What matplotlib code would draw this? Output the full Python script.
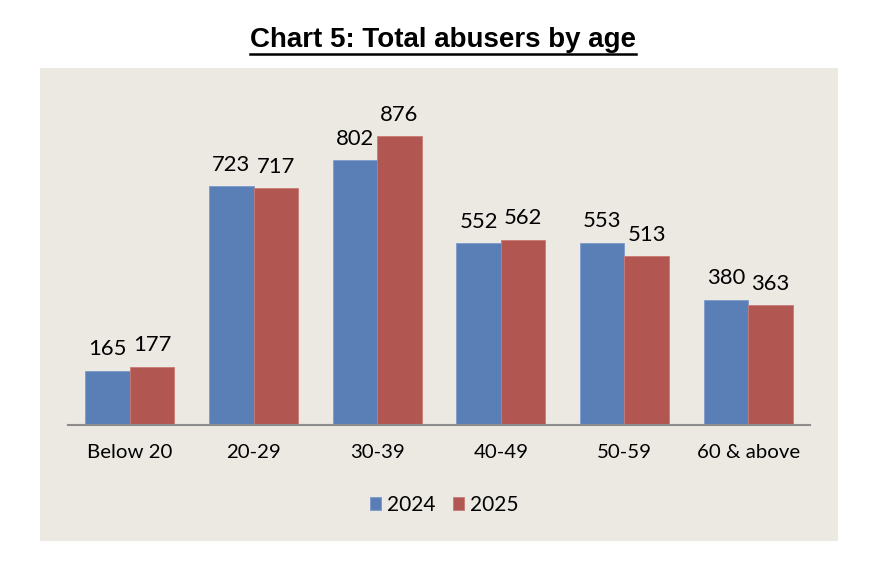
import numpy as np
import matplotlib
matplotlib.use('Agg')
import matplotlib.pyplot as plt
from matplotlib.lines import Line2D

# data
categories = ['Below 20', '20-29', '30-39', '40-49', '50-59', '60 & above']
years = ['2024', '2025']
values_2024 = [165, 723, 802, 552, 553, 380]
values_2025 = [177, 717, 876, 562, 513, 363]

colors = ['#5A7FB7', '#B25651']
edge_colors = ['#7C9BCB', '#C97974']
bg = '#ECE9E2'

plt.rcParams['font.family'] = ['Lato', 'DejaVu Sans']

fig = plt.figure(figsize=(8.72, 5.82), dpi=100)
fig.patch.set_facecolor('white')

# beige chart panel
bgax = fig.add_axes([40/872, 1-541/582, 798/872, 473/582])
bgax.set_facecolor(bg)
bgax.set_xticks([])
bgax.set_yticks([])
for s in bgax.spines.values():
  s.set_visible(False)

ax = fig.add_axes([68/872, 1-425/582, 742/872, 330/582])
ax.set_facecolor('none')

x = np.arange(len(categories))
w = 0.36
bars = []
for i, vals in enumerate([values_2024, values_2025]):
  b = ax.bar(x + (i - 0.5)*w, vals, width=w, color=colors[i],
             edgecolor=edge_colors[i], linewidth=0.6, label=years[i])
  bars.append(b)
  for rect, v in zip(b, vals):
    ax.annotate(str(v), (rect.get_x() + rect.get_width()/2, v),
                xytext=(0, 8), textcoords='offset points',
                ha='center', va='bottom', fontsize=15.8, color='black')

ax.set_xlim(-0.5, len(categories) - 0.5)
ax.set_ylim(0, 1000)
ax.set_xticks(x)
ax.set_xticklabels(categories, fontsize=14.7)
ax.tick_params(axis='x', length=0, pad=14)
ax.set_yticks([])
for s in ['top', 'right', 'left']:
  ax.spines[s].set_visible(False)
ax.spines['bottom'].set_color('#8C8C8C')
ax.spines['bottom'].set_linewidth(1.5)

leg = fig.legend(handles=bars, labels=years, loc='center',
                 bbox_to_anchor=(444/872, 1-505/582), ncol=2, frameon=False,
                 fontsize=15, handlelength=0.55, handleheight=0.55,
                 handletextpad=0.25, columnspacing=0.85)

# title with underline
title = fig.text(443/872, 1-40/582, 'Chart 5: Total abusers by age',
                 ha='center', va='center', fontsize=20, fontweight='bold',
                 family='Liberation Sans')
fig.canvas.draw()
bb = title.get_window_extent(fig.canvas.get_renderer()).transformed(fig.transFigure.inverted())
uy = bb.y0 - 0.002
fig.lines.append(Line2D([bb.x0, bb.x1], [uy, uy], transform=fig.transFigure,
                        color='black', linewidth=1.8))

fig.savefig('out.png', dpi=100, facecolor='white')
